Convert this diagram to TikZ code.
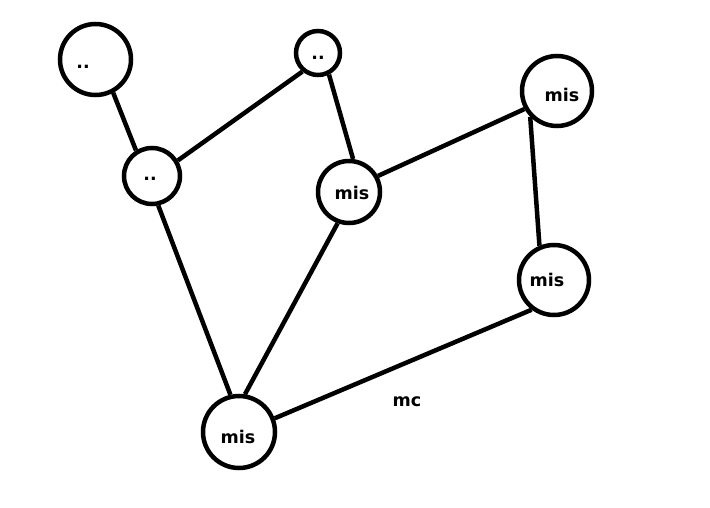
\documentclass[tikz,border=0pt]{standalone}
\usepackage{fontspec}
\setmainfont{DejaVu Sans}
\begin{document}
\begin{tikzpicture}[x=1pt,y=-1pt,
  vert/.style={circle,draw=black,line width=4.5pt,inner sep=0pt,fill=white},
  txt/.style={font=\bfseries\fontsize{17.5}{19}\selectfont,inner sep=0pt},
  edge/.style={draw=black,line width=4.5pt}]
\useasboundingbox[fill=white] (0,0) rectangle (710,508);
\node[vert,minimum size=71pt,label={[txt,shift={(-12.5,7.5)}]center:..}] (A) at (95.5,59.5) {};
\node[vert,minimum size=56pt,label={[txt,shift={(-2,3)}]center:..}] (B) at (152,176) {};
\node[vert,minimum size=44pt,label={[txt,shift={(0,5)}]center:..}] (C) at (318,53) {};
\node[vert,minimum size=62pt,label={[txt,shift={(3,1)}]center:mis}] (D) at (349,192) {};
\node[vert,minimum size=70pt,label={[txt,shift={(5,4)}]center:mis}] (E) at (557,91) {};
\node[vert,minimum size=70pt,label={[txt,shift={(-7,0)}]center:mis}] (F) at (554,280) {};
\node[vert,minimum size=72pt,label={[txt,shift={(-1,5)}]center:mis}] (G) at (239,432) {};
\node[txt] (mc) at (407,402) {mc};
\draw[edge] (A.-62) -- (B.122);
\draw[edge] (C.-130) -- (B.31);
\draw[edge] (C.-63) -- (D.83);
\draw[edge] (B.-78) -- (G.103);
\draw[edge] (D.-110) -- (G.81);
\draw[edge] (D.29) -- (E.-151);
\draw[edge] (E.-136) -- (F.113);
\draw[edge] (F.-127) -- (G.21);
\end{tikzpicture}
\end{document}
